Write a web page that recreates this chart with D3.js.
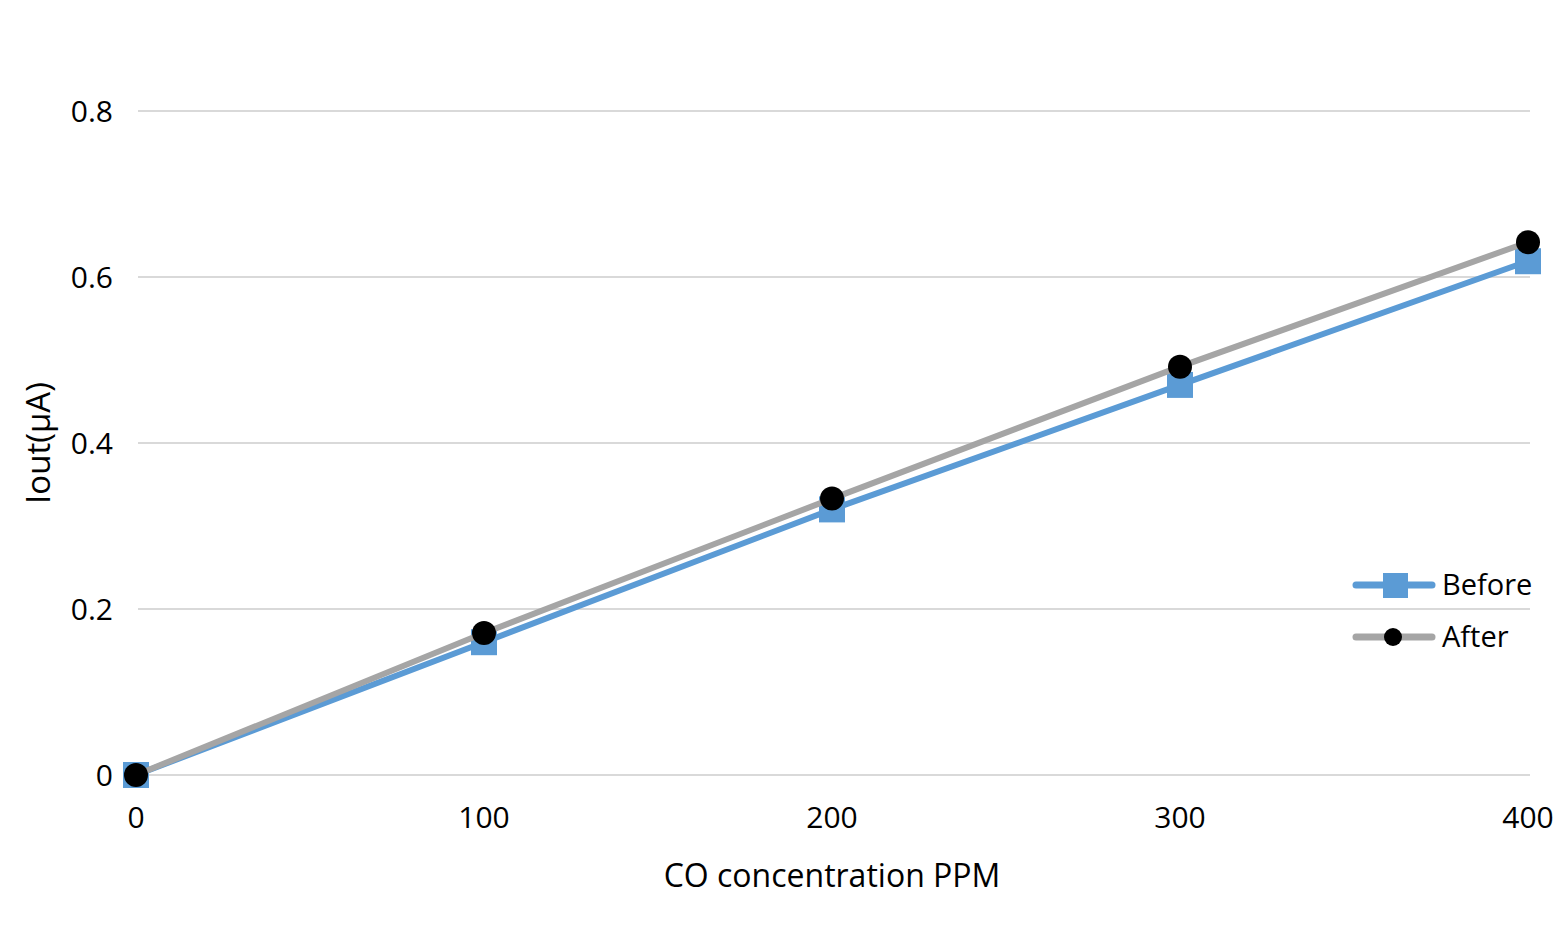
<!DOCTYPE html>
<html>
<head>
<meta charset="utf-8">
<script src="https://cdn.jsdelivr.net/npm/d3@7"></script>
<style>
  body { margin: 0; background: #fff; }
  text { font-family: "Open Sans", "Liberation Sans", sans-serif; fill: #000; }
</style>
</head>
<body>
<svg id="chart" width="1554" height="928"></svg>
<script>
var ppm = [0, 100, 200, 300, 400];
var before = [0, 0.160, 0.320, 0.470, 0.619];
var after = [0, 0.171, 0.333, 0.492, 0.642];
var yTicks = [0, 0.2, 0.4, 0.6, 0.8];
var xTicks = [0, 100, 200, 300, 400];
var seriesNames = ["Before", "After"];

var svg = d3.select("#chart");
var x = d3.scaleLinear().domain([0, 400]).range([136, 1528]);
var y = d3.scaleLinear().domain([0, 0.8]).range([775, 111]);

// gridlines
svg.append("g").selectAll("line").data(yTicks).enter().append("line")
    .attr("x1", 138).attr("x2", 1530)
    .attr("y1", function(d) { return y(d); })
    .attr("y2", function(d) { return y(d); })
    .attr("stroke", "#d9d9d9").attr("stroke-width", 2);

// y tick labels
svg.append("g").selectAll("text").data(yTicks).enter().append("text")
    .attr("x", 113).attr("y", function(d) { return y(d); })
    .attr("dy", "0.35em").attr("text-anchor", "end")
    .style("font-size", "30px")
    .text(function(d) { return d === 0 ? "0" : d3.format(".1f")(d); });

// x tick labels
svg.append("g").selectAll("text").data(xTicks).enter().append("text")
    .attr("x", function(d) { return x(d); }).attr("y", 817)
    .attr("dy", "0.35em").attr("text-anchor", "middle")
    .style("font-size", "30px")
    .text(function(d) { return d; });

// axis titles
svg.append("text").attr("x", 832).attr("y", 876).attr("dy", "0.35em")
    .attr("text-anchor", "middle").style("font-size", "32px")
    .text("CO concentration PPM");
svg.append("text").attr("transform", "translate(38,443) rotate(-90)")
    .attr("dy", "0.35em").attr("text-anchor", "middle").style("font-size", "33px")
    .text("Iout(µA)");

var line = d3.line()
    .x(function(d, i) { return x(ppm[i]); })
    .y(function(d) { return y(d); });

// Before series
svg.append("path").datum(before).attr("d", line)
    .attr("fill", "none").attr("stroke", "#5b9bd5").attr("stroke-width", 6)
    .attr("stroke-linejoin", "round");
svg.append("g").selectAll("rect").data(before).enter().append("rect")
    .attr("x", function(d, i) { return x(ppm[i]) - 13; })
    .attr("y", function(d) { return y(d) - 13; })
    .attr("width", 26).attr("height", 26)
    .attr("fill", "#5b9bd5");

// After series
svg.append("path").datum(after).attr("d", line)
    .attr("fill", "none").attr("stroke", "#a5a5a5").attr("stroke-width", 6)
    .attr("stroke-linejoin", "round");
svg.append("g").selectAll("circle").data(after).enter().append("circle")
    .attr("cx", function(d, i) { return x(ppm[i]); })
    .attr("cy", function(d) { return y(d); })
    .attr("r", 12).attr("fill", "#000");

// legend
var legend = svg.append("g").selectAll("g").data(seriesNames).enter().append("g")
    .attr("transform", function(d, i) { return "translate(1356," + (585 + i * 52) + ")"; });
legend.append("line").attr("x1", 0).attr("x2", 76)
    .attr("stroke", function(d, i) { return i === 0 ? "#5b9bd5" : "#a5a5a5"; })
    .attr("stroke-width", 7).attr("stroke-linecap", "round");
legend.each(function(d, i) {
    var g = d3.select(this);
    if (i === 0) {
        g.append("rect").attr("x", 27).attr("y", -12).attr("width", 25).attr("height", 25)
            .attr("fill", "#5b9bd5");
    } else {
        g.append("circle").attr("cx", 37).attr("cy", 0).attr("r", 9).attr("fill", "#000");
    }
});
legend.append("text").attr("x", 86).attr("dy", "0.35em")
    .style("font-size", "29px").text(function(d) { return d; });
</script>
</body>
</html>
